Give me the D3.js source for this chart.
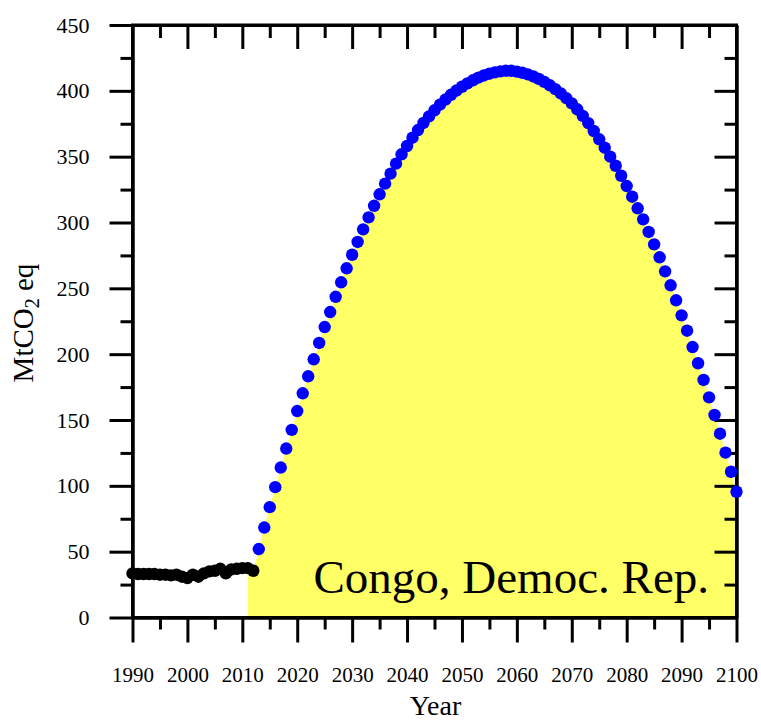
<!DOCTYPE html>
<html><head><meta charset="utf-8">
<script src="https://cdn.jsdelivr.net/npm/d3@7"></script>
<style>
html,body{margin:0;padding:0;background:#fff;}
svg{display:block;font-family:"Liberation Serif","Times New Roman",serif;}
</style></head>
<body><svg id="chart" width="761" height="720"></svg>
<script>
// ---- data ----
const histStartYear = 1990;
const histValues = [33.5, 33, 33, 33, 33, 32.5, 32.5, 32, 32.5, 31, 30, 32.5, 31, 33.5, 35, 35.5, 37, 33.5, 36.5, 37, 37.5, 37.5, 35.5];
const projStartYear = 2013;
const projValues = [
  52, 68.3, 83.8, 99, 113.9, 128.3, 142.5, 156.8,            // 2013-2020
  170.3, 183.2, 196.1, 208.5, 220.6, 232, 243.6, 254.6, 265.2, 275.5, // 2021-2030
  285.2, 294.8, 303.9, 312.7, 321.4, 329.5, 337.1, 344.7, 351.8, 358.1, // 2031-2040
  364.4, 370.2, 375.6, 380.6, 385.2, 389.5, 393.4, 397, 400.2, 403.1, // 2041-2050
  405.7, 408, 410, 411.7, 413, 414, 414.8, 415.3, 415.2, 414.6,     // 2051-2060
  413.7, 412.5, 410.9, 409, 406.8, 404.2, 401.3, 398, 394.5, 390.5,  // 2061-2070
  386, 381, 375.5, 369.5, 363.2, 356.8, 350, 343.1, 335.5, 327.7,    // 2071-2080
  319.6, 310.8, 302.4, 292.8, 283.4, 273.6, 262.9, 252.3, 240.9, 229.5, // 2081-2090
  217.8, 205.4, 193.1, 180.4, 167.2, 153.8, 139.6, 125.2, 110.7, 95.5   // 2091-2100
];
const fillStartYear = 2011;
const yMajorTicks = [0, 50, 100, 150, 200, 250, 300, 350, 400, 450];
const yMinorTicks = [25, 75, 125, 175, 225, 275, 325, 375, 425];
const xMajorTicks = [1990, 2000, 2010, 2020, 2030, 2040, 2050, 2060, 2070, 2080, 2090, 2100];
const xMinorTicks = [1995, 2005, 2015, 2025, 2035, 2045, 2055, 2065, 2075, 2085, 2095];
const countryLabel = "Congo, Democ. Rep.";
const xTitle = "Year";

// ---- build series ----
const hist = histValues.map((v, i) => ({year: histStartYear + i, value: v}));
const proj = projValues.map((v, i) => ({year: projStartYear + i, value: v}));
const fillSeries = hist.filter(d => d.year >= fillStartYear).concat(proj);

const svg = d3.select("#chart");
const x = d3.scaleLinear().domain([1990, 2100]).range([132.5, 736.5]);
const y = d3.scaleLinear().domain([0, 450]).range([617.5, 25]);

// yellow area
const area = d3.area().x(d => x(d.year)).y0(y(0)).y1(d => y(d.value));
svg.append("path").datum(fillSeries).attr("d", area).attr("fill", "#ffff66");

// axes
function styleAxis(g, sw) {
  g.selectAll("path.domain").attr("stroke", "#000").attr("stroke-width", 3);
  g.selectAll(".tick line").attr("stroke", "#000").attr("stroke-width", sw);
}
const tickFont = g => g.selectAll("text").attr("fill", "#000").style("font-family", '"Liberation Serif","Times New Roman",serif');

// left
const gLeftMinor = svg.append("g").attr("transform", `translate(${x(1990)},0)`)
  .call(d3.axisLeft(y).tickValues(yMinorTicks).tickSize(12).tickSizeOuter(0).tickFormat(""));
styleAxis(gLeftMinor, 3);
const gLeft = svg.append("g").attr("transform", `translate(${x(1990)},0)`)
  .call(d3.axisLeft(y).tickValues(yMajorTicks).tickSize(23).tickPadding(20).tickSizeOuter(0).tickFormat(d3.format("d")));
styleAxis(gLeft, 3);
gLeft.selectAll("text").attr("font-size", 22);
tickFont(gLeft);

// right (inward)
const gRightMinor = svg.append("g").attr("transform", `translate(${x(2100)},0)`)
  .call(d3.axisLeft(y).tickValues(yMinorTicks).tickSize(12).tickSizeOuter(0).tickFormat(""));
styleAxis(gRightMinor, 3);
const gRight = svg.append("g").attr("transform", `translate(${x(2100)},0)`)
  .call(d3.axisLeft(y).tickValues(yMajorTicks.filter(v => v > 0 && v < 450)).tickSize(22).tickSizeOuter(0).tickFormat(""));
styleAxis(gRight, 3);

// bottom
const gBotMinor = svg.append("g").attr("transform", `translate(0,${y(0)})`)
  .call(d3.axisBottom(x).tickValues(xMinorTicks).tickSize(12).tickSizeOuter(0).tickFormat(""));
styleAxis(gBotMinor, 3);
const gBot = svg.append("g").attr("transform", `translate(0,${y(0)})`)
  .call(d3.axisBottom(x).tickValues(xMajorTicks).tickSize(25).tickPadding(25).tickSizeOuter(0).tickFormat(d3.format("d")));
styleAxis(gBot, 3);
gBot.selectAll("text").attr("font-size", 21);
tickFont(gBot);

// top (inward)
const gTopMinor = svg.append("g").attr("transform", `translate(0,${y(450)})`)
  .call(d3.axisBottom(x).tickValues(xMinorTicks).tickSize(13).tickSizeOuter(0).tickFormat(""));
styleAxis(gTopMinor, 3);
const gTop = svg.append("g").attr("transform", `translate(0,${y(450)})`)
  .call(d3.axisBottom(x).tickValues(xMajorTicks.filter(v => v > 1990 && v < 2100)).tickSize(24).tickSizeOuter(0).tickFormat(""));
styleAxis(gTop, 3);

// frame corners squared
svg.append("path")
  .attr("d", `M${x(1990)},${y(450)}H${x(2100)}V${y(0)}H${x(1990)}Z`)
  .attr("fill", "none").attr("stroke", "#000").attr("stroke-width", 3).attr("stroke-linejoin", "miter");

// dots
svg.append("g").selectAll("circle").data(hist).join("circle")
  .attr("cx", d => x(d.year)).attr("cy", d => y(d.value)).attr("r", 6.2).attr("fill", "#000");
svg.append("g").selectAll("circle").data(proj).join("circle")
  .attr("cx", d => x(d.year)).attr("cy", d => y(d.value)).attr("r", 6.2).attr("fill", "#0000ff");

// country label
svg.append("text").attr("x", 709).attr("y", 593).attr("text-anchor", "end")
  .attr("font-size", 47).attr("fill", "#000").text(countryLabel);

// axis titles
svg.append("text").attr("x", (x(1990) + x(2100)) / 2 + 1).attr("y", 715).attr("text-anchor", "middle")
  .attr("font-size", 28).attr("fill", "#000").text(xTitle);

const yt = svg.append("text").attr("transform", "translate(33,323) rotate(-90)")
  .attr("text-anchor", "middle").attr("font-size", 29).attr("fill", "#000");
yt.append("tspan").text("MtCO");
yt.append("tspan").attr("font-size", 20).attr("dy", 6).text("2");
yt.append("tspan").attr("dy", -6).text(" eq");
</script></body></html>
